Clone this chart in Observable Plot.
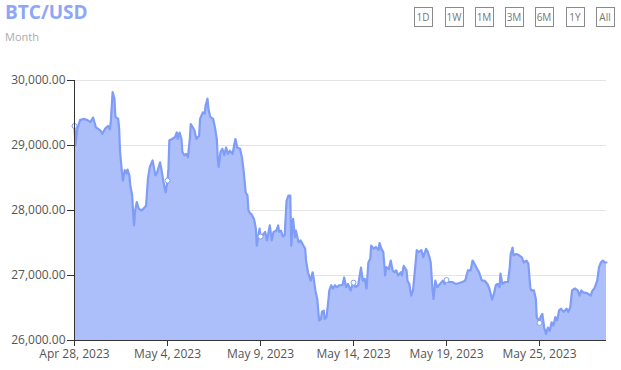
<!DOCTYPE html>
<html>
<head>
<meta charset="utf-8">
<script src="https://cdn.jsdelivr.net/npm/d3@7"></script>
<script src="https://cdn.jsdelivr.net/npm/@observablehq/plot@0.6"></script>
<style>
  html, body { margin: 0; padding: 0; background: #fff; }
  #wrap { position: relative; width: 621px; height: 370px; overflow: hidden; font-family: "Open Sans", sans-serif; }
  #title { position: absolute; left: 5px; top: -1px; font-size: 19px; font-weight: 700; color: #8da7f6; line-height: 26px; }
  #sub { position: absolute; left: 5px; top: 29px; font-size: 11px; color: #aaa; line-height: 16px; }
  .btn { position: absolute; top: 7px; height: 18px; border: 1px solid #8a8a8a; color: #777; font-size: 10px; line-height: 18px; text-align: center; box-sizing: content-box; }
  #chart { position: absolute; left: 0; top: 60px; }
</style>
</head>
<body>
<div id="wrap">
  <div id="title">BTC/USD</div>
  <div id="sub">Month</div>
  <div id="buttons"></div>
  <div id="chart"></div>
</div>
<script>
const pos = [0,1,3,6,10,14,17,20,23,25,28,30,33,36,38,39,41,43,44,47,48,49,51,52,54,56,57,59,60,62,63,64,65,67,69,72,75,77,79,81,84,85,87,89,91,92,94,96,98,100,101,102,105,108,110,111,113,115,116,118,120,122,124,125,128,129,131,134,135,138,140,141,143,144,146,149,151,153,154,155,157,159,161,163,165,167,170,171,173,175,178,180,182,184,186,187,189,190,193,195,196,198,199,200,202,205,207,210,212,214,217,219,220,222,224,226,228,230,232,233,235,237,238,241,243,245,248,249,251,254,256,257,259,261,263,265,266,268,269,271,273,274,276,278,280,282,285,288,290,292,294,297,299,300,302,305,308,310,312,314,316,318,319,322,324,327,328,330,332,334,335,338,340,342,344,346,348,351,352,354,357,358,360,362,364,366,368,370,373,375,378,380,382,383,385,386,388,390,393,396,398,400,402,406,410,413,417,420,423,426,428,430,433,435,438,441,444,446,449,451,453,455,457,458,460,463,466,468,469,471,472,475,478,481,483,486,488,490,491,494,496,497,499,500,501,503,505,507,509,511,513,515,517,519,521,523,526,529,531,533,535,538,541,543,545,547,551,555,557,559,562,564,566,568,570,572];
const price = [29300,29000,29260,29390,29410,29390,29360,29430,29280,29260,29230,29180,29260,29300,29250,29360,29820,29720,29440,29410,29260,28900,28590,28460,28620,28570,28630,28540,28390,28230,27980,27770,27980,28130,28030,28000,28040,28080,28490,28670,28770,28690,28540,28590,28690,28740,28590,28410,28280,28460,28640,29080,29100,29130,29200,29100,29200,29100,28900,28850,28870,28820,29100,29330,29260,29230,29100,29150,29410,29510,29490,29620,29720,29560,29440,29410,29280,29100,28800,28670,28900,28950,28850,28970,28870,28920,28870,28950,29100,28970,28950,28820,28590,28280,28230,28000,27950,27950,27870,27720,27460,27640,27720,27600,27620,27670,27540,27770,27540,27670,27690,27770,27670,27690,27600,27620,28150,28230,28230,27460,27870,27590,27690,27510,27540,27490,27410,27230,27050,26920,27050,26970,26770,26640,26310,26330,26440,26460,26330,26360,26620,26770,26850,26800,26850,26820,26850,26850,26970,26820,26870,26770,26870,26890,26820,26850,27120,26920,26950,26800,27200,27260,27460,27410,27440,27390,27500,27410,27360,27000,27130,27100,27230,27080,27050,27080,27000,27050,27000,27150,27080,26920,26870,26690,26770,27080,27390,27360,27390,27280,27410,27360,27260,27200,26770,26640,26920,26820,26870,26920,26870,26930,26900,26900,26870,26880,26900,26920,27080,27080,27230,27180,27100,27050,26920,26920,26870,26800,26630,26720,26850,26870,26820,27030,26870,26900,26900,27130,27330,27430,27310,27330,27310,27280,27200,27230,27180,26820,26770,26770,26640,26360,26310,26270,26360,26410,26200,26100,26200,26150,26280,26230,26360,26310,26460,26490,26440,26490,26440,26510,26770,26800,26770,26690,26770,26740,26730,26690,26770,26800,26920,27130,27200,27230,27200,27200];
const tickPos = [0, 100, 200, 300, 400, 500];
const tickLabels = ["Apr 28, 2023", "May 4, 2023", "May 9, 2023", "May 14, 2023", "May 19, 2023", "May 25, 2023"];
const yTicks = [26000, 27000, 28000, 29000, 30000];
const buttons = ["1D", "1W", "1M", "3M", "6M", "1Y", "All"];
const buttonCenters = [423, 454, 484, 514, 544, 575, 605];

const fillColor = "#adbffa";
const lineColor = "#7f9cf6";

const data = pos.map((p, i) => ({p, v: price[i]}));
const markers = data.filter(d => tickPos.includes(d.p));
const labelMap = new Map(tickPos.map((t, i) => [t, tickLabels[i]]));
const fmt = d3.format(",.2f");

const btnBox = document.getElementById("buttons");
buttons.forEach((b, i) => {
  const el = document.createElement("div");
  el.className = "btn";
  el.textContent = b;
  const w = 17;
  el.style.width = w + "px";
  el.style.left = (buttonCenters[i] - w / 2 - 1) + "px";
  btnBox.appendChild(el);
});

const chart = Plot.plot({
  width: 621,
  height: 310,
  marginTop: 20,
  marginBottom: 30,
  marginLeft: 74,
  marginRight: 15,
  style: {fontFamily: "Open Sans", fontSize: "12px", background: "transparent", overflow: "visible"},
  x: {domain: [0, 572], axis: null},
  y: {domain: [26000, 30000], axis: null},
  marks: [
    Plot.ruleY(yTicks, {stroke: "#e4e4e4", strokeWidth: 1}),
    Plot.areaY(data, {x: "p", y1: 26000, y2: "v", fill: fillColor, fillOpacity: 1}),
    Plot.line(data, {x: "p", y: "v", stroke: lineColor, strokeWidth: 2.2, strokeLinejoin: "round"}),
    Plot.dot(markers, {x: "p", y: "v", r: 2.5, fill: "white", stroke: lineColor, strokeWidth: 1}),
    Plot.ruleX([0], {stroke: "#333", strokeWidth: 1}),
    Plot.ruleY([26000], {stroke: "#333", strokeWidth: 1}),
    Plot.axisY(yTicks, {label: null, tickFormat: d => fmt(d), tickSize: 7, tickPadding: 2, fontSize: 12, color: "#555", stroke: "#333"}),
    Plot.axisX(tickPos, {label: null, tickFormat: d => labelMap.get(d), tickSize: 6, tickPadding: 3, fontSize: 12, color: "#555", stroke: "#333"})
  ]
});
document.getElementById("chart").appendChild(chart);
</script>
</body>
</html>
